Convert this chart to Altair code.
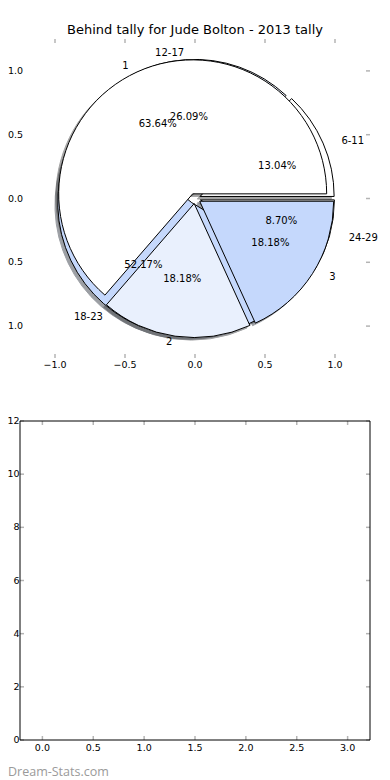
import math
import altair as alt
import pandas as pd

# ---------------- data ----------------
TITLE = "Behind tally for Jude Bolton - 2013 tally"
OUTER_LABELS = ["6-11", "12-17", "18-23", "24-29"]
OUTER_COUNTS = [3, 6, 12, 2]
INNER_LABELS = ["1", "2", "3"]
INNER_COUNTS = [7, 2, 2]
PIE_X_TICKS = [-1.0, -0.5, 0.0, 0.5, 1.0]
PIE_Y_TICKS = [-1.0, -0.5, 0.0, 0.5, 1.0]
PIE_DOMAIN = [-1.25, 1.25]
BAR_X_TICKS = [0.0, 0.5, 1.0, 1.5, 2.0, 2.5, 3.0]
BAR_Y_TICKS = [0, 2, 4, 6, 8, 10, 12]
BAR_X_DOMAIN = [-0.22, 3.22]
BAR_Y_DOMAIN = [0, 12]
WATERMARK = "Dream-Stats.com"

# ---------------- style ----------------
WEDGE_COLORS = ["#ffffff", "#e9f0fd", "#c5d8fc"]
EXPLODE = 0.04
SHADOW_SHIFT = -0.02
LABEL_DIST = 1.1
PCT_DIST = 0.6
RADIUS_PX = 134
W = 350
H = 701
TOP_Y_RANGE = [319, 0]
BOT_Y_RANGE = [701, 382]
FONT = "DejaVu Sans"
TICK_COLOR = "#b4b4b4"
TICK_FS = 9.5


def shade(hexc):
    r, g, b = (int(hexc[i:i + 2], 16) for i in (1, 3, 5))
    return "#%02x%02x%02x" % (round(0.3 * r), round(0.3 * g), round(0.3 * b))


def pie_frame(labels, counts, name):
    total = float(sum(counts))
    rows = []
    a = 0.0
    for i, (lab, c) in enumerate(zip(labels, counts)):
        frac = c / total
        a1, a2 = a, a + 360.0 * frac
        a = a2
        mid = math.radians((a1 + a2) / 2.0)
        cm, sm = math.cos(mid), math.sin(mid)
        ex, ey = EXPLODE * cm, EXPLODE * sm
        t1 = math.pi / 2 - math.radians(a2)
        t2 = math.pi / 2 - math.radians(a1)
        if t1 < 0:
            t1 += 2 * math.pi
            t2 += 2 * math.pi
        lx = ex + LABEL_DIST * cm
        color = WEDGE_COLORS[i % len(WEDGE_COLORS)]
        rows.append(dict(
            pie=name, label=lab, pct="%.2f%%" % (100 * frac),
            cx=ex, cy=ey, sx=ex + SHADOW_SHIFT, sy=ey + SHADOW_SHIFT,
            t1=t1, t2=t2, lx=lx, ly=ey + LABEL_DIST * sm,
            qx=ex + PCT_DIST * cm, qy=ey + PCT_DIST * sm,
            side="left" if lx > 0 else "right",
            color=color, shadow=shade(color),
        ))
    return pd.DataFrame(rows)


outer_df = pie_frame(OUTER_LABELS, OUTER_COUNTS, "outer")
inner_df = pie_frame(INNER_LABELS, INNER_COUNTS, "inner")
all_df = pd.concat([outer_df, inner_df], ignore_index=True)

# ---------------- top panel (pie) ----------------
px = alt.Scale(domain=PIE_DOMAIN, range=[0, W], nice=False, zero=False)
py = alt.Scale(domain=PIE_DOMAIN, range=TOP_Y_RANGE, nice=False, zero=False)


def PX(f):
    return alt.X(f, type="quantitative", scale=px, axis=None)


def PY(f):
    return alt.Y(f, type="quantitative", scale=py, axis=None)


theta = alt.Theta("t1:Q", scale=None, stack=False)
theta2 = alt.Theta2("t2:Q")

shadows = alt.Chart(all_df).mark_arc(radius=RADIUS_PX, opacity=0.5, strokeWidth=1).encode(
    x=PX("sx"), y=PY("sy"), theta=theta, theta2=theta2,
    fill=alt.Fill("shadow:N", scale=None), stroke=alt.Stroke("shadow:N", scale=None),
)


def wedges(df):
    return alt.Chart(df).mark_arc(radius=RADIUS_PX, stroke="black", strokeWidth=1).encode(
        x=PX("cx"), y=PY("cy"), theta=theta, theta2=theta2,
        fill=alt.Fill("color:N", scale=None),
    )


label_layers = []
for side in ["left", "right"]:
    label_layers.append(
        alt.Chart(all_df).transform_filter(alt.datum.side == side)
        .mark_text(align=side, baseline="middle", fontSize=10, font=FONT, color="black")
        .encode(x=PX("lx"), y=PY("ly"), text="label:N")
    )
pct_layer = alt.Chart(all_df).mark_text(
    align="center", baseline="middle", fontSize=10, font=FONT, color="black"
).encode(x=PX("qx"), y=PY("qy"), text="pct:N")

pxt = pd.DataFrame({"v": PIE_X_TICKS})
pyt = pd.DataFrame({"v": PIE_Y_TICKS})
tick_mark = dict(color=TICK_COLOR, strokeWidth=1.5)
lab_mark = dict(font=FONT, fontSize=TICK_FS, color="black")

top_ticks = [
    alt.Chart(pxt).mark_rule(**tick_mark).encode(
        x=PX("v"), y=alt.value(TOP_Y_RANGE[1]), y2=alt.value(TOP_Y_RANGE[1] + 4)),
    alt.Chart(pxt).mark_rule(**tick_mark).encode(
        x=PX("v"), y=alt.value(TOP_Y_RANGE[0] - 4), y2=alt.value(TOP_Y_RANGE[0])),
    alt.Chart(pyt).mark_rule(**tick_mark).encode(
        y=PY("v"), x=alt.value(W - 4), x2=alt.value(W)),
]
top_labels = [
    alt.Chart(pxt).transform_calculate(lab="format(datum.v, '.1f')")
    .mark_text(align="center", baseline="top", **lab_mark)
    .encode(x=PX("v"), y=alt.value(TOP_Y_RANGE[0] + 2), text="lab:N"),
    alt.Chart(pyt).transform_calculate(lab="format(datum.v, '.1f')")
    .mark_text(align="right", baseline="middle", **lab_mark)
    .encode(y=PY("v"), x=alt.value(3), text="lab:N"),
]

top = alt.layer(shadows, wedges(outer_df), wedges(inner_df), *label_layers, pct_layer,
                *top_ticks, *top_labels)

# ---------------- bottom panel (empty axes) ----------------
bx = alt.Scale(domain=BAR_X_DOMAIN, range=[0, W], nice=False, zero=False)
by = alt.Scale(domain=BAR_Y_DOMAIN, range=BOT_Y_RANGE, nice=False, zero=False)


def BX(f):
    return alt.X(f, type="quantitative", scale=bx, axis=None)


def BY(f):
    return alt.Y(f, type="quantitative", scale=by, axis=None)


bxt = pd.DataFrame({"v": BAR_X_TICKS})
byt = pd.DataFrame({"v": BAR_Y_TICKS})
one = pd.DataFrame({"k": [0]})

frame = alt.Chart(one).mark_rect(fillOpacity=0, stroke="black", strokeWidth=1).encode(
    x=alt.X(datum=BAR_X_DOMAIN[0], scale=bx, axis=None), x2=alt.X2(datum=BAR_X_DOMAIN[1]),
    y=alt.Y(datum=BAR_Y_DOMAIN[0], scale=by, axis=None), y2=alt.Y2(datum=BAR_Y_DOMAIN[1]),
)
bot_ticks = [
    alt.Chart(bxt).mark_rule(**tick_mark).encode(
        x=BX("v"), y=alt.value(BOT_Y_RANGE[1]), y2=alt.value(BOT_Y_RANGE[1] + 4)),
    alt.Chart(bxt).mark_rule(**tick_mark).encode(
        x=BX("v"), y=alt.value(BOT_Y_RANGE[0] - 4), y2=alt.value(BOT_Y_RANGE[0])),
    alt.Chart(byt).mark_rule(**tick_mark).encode(
        y=BY("v"), x=alt.value(0), x2=alt.value(4)),
    alt.Chart(byt).mark_rule(**tick_mark).encode(
        y=BY("v"), x=alt.value(W - 4), x2=alt.value(W)),
]
bot_labels = [
    alt.Chart(bxt).transform_calculate(lab="format(datum.v, '.1f')")
    .mark_text(align="center", baseline="top", **lab_mark)
    .encode(x=BX("v"), y=alt.value(BOT_Y_RANGE[0] + 3), text="lab:N"),
    alt.Chart(byt).transform_calculate(lab="format(datum.v, 'd')")
    .mark_text(align="right", baseline="middle", **lab_mark)
    .encode(y=BY("v"), x=alt.value(-0.5), text="lab:N"),
]
bottom = alt.layer(*bot_ticks, frame, *bot_labels)

# ---------------- watermark ----------------
wm = alt.Chart(pd.DataFrame({"t": [WATERMARK]})).mark_text(
    align="left", baseline="alphabetic", fontSize=12.5, font="Open Sans", color="#9a9a9a"
).encode(x=alt.value(-12), y=alt.value(H + 36), text="t:N")

chart = (
    alt.layer(top, bottom, wm)
    .resolve_scale(x="independent", y="independent")
    .properties(
        width=W, height=H,
        padding={"left": 12, "top": 31, "right": 12, "bottom": 40},
        autosize=alt.AutoSizeParams(type="none"),
        title=alt.TitleParams(TITLE, fontSize=13, font=FONT, fontWeight="normal",
                              anchor="middle", baseline="alphabetic", offset=-9,
                              frame="group", color="black"),
    )
    .configure_view(strokeWidth=0)
)

chart.save("out.html", embed_options={"renderer": "svg", "actions": False})
